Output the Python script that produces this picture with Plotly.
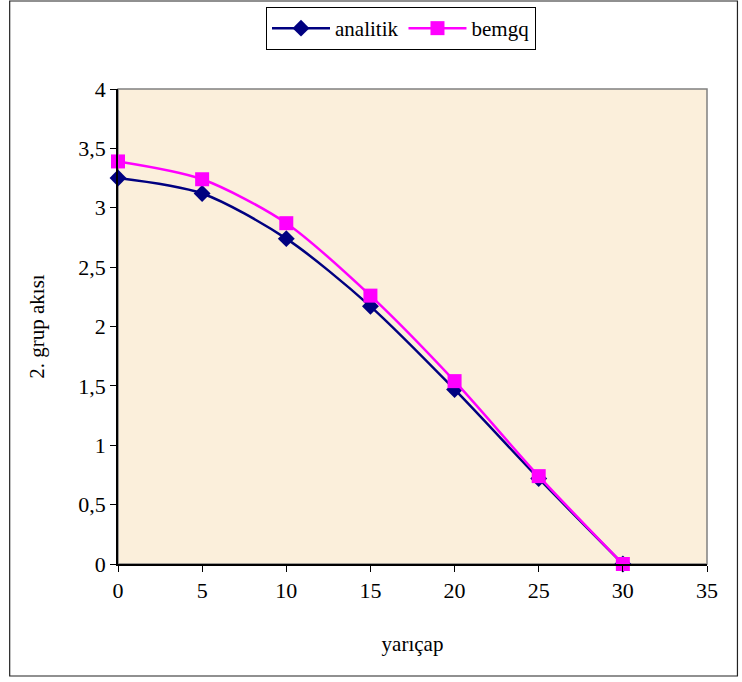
import plotly.graph_objects as go

radius = [0, 5, 10, 15, 20, 25, 30]
analitik = [3.25, 3.12, 2.74, 2.17, 1.47, 0.72, 0.0]
bemgq = [3.39, 3.24, 2.87, 2.26, 1.54, 0.74, 0.0]
x_ticks = [0, 5, 10, 15, 20, 25, 30, 35]
y_ticks = [0, 0.5, 1, 1.5, 2, 2.5, 3, 3.5, 4]

FONT = "Liberation Serif"

fig = go.Figure()
fig.add_trace(go.Scatter(
    x=radius, y=analitik, name="analitik", mode="lines+markers",
    line=dict(color="#000080", width=2.5, shape="spline", smoothing=0.8),
    marker=dict(symbol="diamond", size=13, color="#000080"),
    cliponaxis=False,
))
fig.add_trace(go.Scatter(
    x=radius, y=bemgq, name="bemgq", mode="lines+markers",
    line=dict(color="#FF00FF", width=2.5, shape="spline", smoothing=0.8),
    marker=dict(symbol="square", size=14, color="#FF00FF"),
    cliponaxis=False,
))

L, R, T, B = 117.5, 34.5, 89, 118
W, H = 742, 682
pw, ph = W - L - R, H - T - B

def px2paper_x(px):
    return (px - L) / pw

def px2paper_y(py):
    return (H - B - py) / ph

fig.update_layout(
    width=W, height=H,
    margin=dict(l=L, r=R, t=T, b=B, autoexpand=False),
    paper_bgcolor="white",
    plot_bgcolor="#FBEFDB",
    separators=", ",
    font=dict(family=FONT, size=21, color="black"),
    showlegend=True,
    legend=dict(
        orientation="h",
        xref="container", x=401 / W, xanchor="center",
        yref="container", y=1 - 7 / H, yanchor="top",
        bordercolor="black", borderwidth=1, bgcolor="white",
        font=dict(family=FONT, size=21, color="black"),
        itemwidth=58,
        tracegroupgap=0,
    ),
    xaxis=dict(
        range=[0, 35], tickvals=x_ticks, showgrid=False, zeroline=False,
        showline=True, linecolor="black", linewidth=1.5,
        ticks="outside", ticklen=6, tickcolor="black",
        tickfont=dict(family=FONT, size=22, color="black"),
        title=dict(text="yarıçap", font=dict(family=FONT, size=21, color="black"), standoff=34),
    ),
    yaxis=dict(
        range=[0, 4], tickvals=y_ticks, showgrid=False, zeroline=False,
        showline=True, linecolor="black", linewidth=1.5,
        ticks="outside", ticklen=6, tickcolor="black",
        tickfont=dict(family=FONT, size=22, color="black"),
        title=dict(text="2. grup akısı", font=dict(family=FONT, size=21, color="black"), standoff=28),
    ),
    shapes=[
        dict(type="rect", xref="paper", yref="paper",
             x0=0, x1=1, y0=0, y1=1, line=dict(color="#808080", width=1.5),
             layer="below"),
        dict(type="rect", xref="paper", yref="paper",
             x0=px2paper_x(9), x1=px2paper_x(738),
             y0=px2paper_y(676), y1=px2paper_y(1),
             line=dict(color="#222222", width=1.2)),
    ],
)

fig.write_html("out.html")
